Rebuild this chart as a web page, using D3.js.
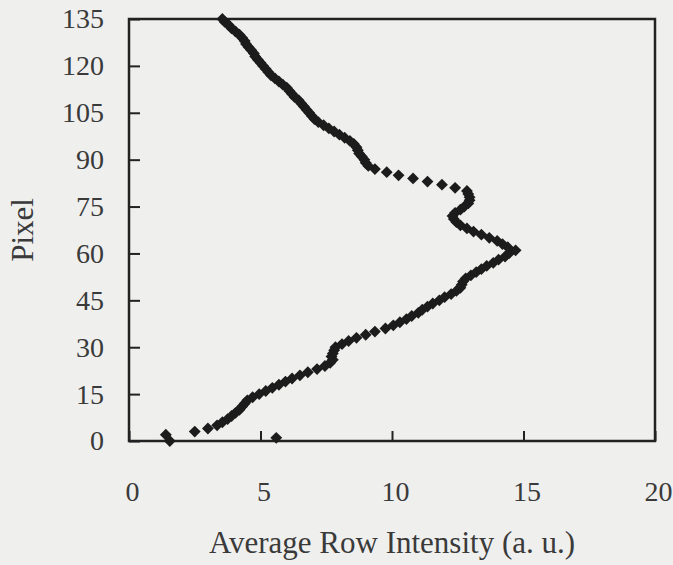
<!DOCTYPE html>
<html>
<head>
<meta charset="utf-8">
<script src="https://cdn.jsdelivr.net/npm/d3@7"></script>
<style>
  html, body { margin: 0; padding: 0; background: #efefee; }
  svg { display: block; }
</style>
</head>
<body>
<svg id="chart" width="673" height="565"></svg>
<script>
// ---- data ----
const pixels = [
  0,1,2,3,4,5,6,7,8,9,10,11,12,13,14,15,16,17,18,19,
  20,21,22,23,24,25,26,27,28,29,30,31,32,33,34,35,36,37,38,39,
  40,41,42,43,44,45,46,47,48,49,50,51,52,53,54,55,56,57,58,59,
  60,61,62,63,64,65,66,67,68,69,70,71,72,73,74,75,76,77,78,79,
  80,81,82,83,84,85,86,87,88,89,90,91,92,93,94,95,96,97,98,99,
  100,101,102,103,104,105,106,107,108,109,110,111,112,113,114,115,116,117,118,119,
  120,121,122,123,124,125,126,127,128,129,130,131,132,133,134,135
];
const intensity = [
  1.55,5.6,1.4,2.5,3.0,3.35,3.55,3.75,3.9,4.05,4.2,4.3,4.4,4.5,4.7,4.95,5.2,5.45,5.7,5.95,
  6.2,6.5,6.8,7.15,7.45,7.65,7.75,7.7,7.75,7.8,7.85,8.1,8.35,8.65,9.0,9.35,9.75,10.05,10.3,10.55,
  10.75,11.0,11.15,11.35,11.55,11.8,12.0,12.25,12.45,12.6,12.65,12.7,12.8,13.0,13.2,13.4,13.6,13.85,14.05,14.3,
  14.45,14.7,14.4,14.2,14.0,13.7,13.4,13.1,12.85,12.6,12.45,12.35,12.3,12.4,12.6,12.75,12.9,12.95,12.95,12.9,
  12.85,12.4,11.9,11.35,10.8,10.25,9.8,9.35,9.1,9.0,8.95,8.85,8.75,8.7,8.65,8.55,8.4,8.2,8.0,7.8,
  7.6,7.4,7.2,7.05,6.95,6.85,6.75,6.65,6.55,6.45,6.3,6.2,6.1,6.0,5.85,5.7,5.55,5.4,5.3,5.2,
  5.1,5.0,4.9,4.8,4.75,4.65,4.55,4.45,4.4,4.3,4.2,4.05,3.9,3.8,3.65,3.55
];
const xTicks = [0, 5, 10, 15, 20];
const yTicks = [0, 15, 30, 45, 60, 75, 90, 105, 120, 135];
const xTitle = "Average Row Intensity (a. u.)";
const yTitle = "Pixel";

// ---- layout ----
const L = 129, R = 655, T = 19, B = 441;
const ink = "#222";
const textColor = "#3a3a3a";
const fontFamily = "'Liberation Serif', 'Times New Roman', serif";

const svg = d3.select("#chart");
const x = d3.scaleLinear().domain([0, 20]).range([L, R]);
const y = d3.scaleLinear().domain([0, 135]).range([B, T]);

// axes
const yAxis = d3.axisLeft(y).tickValues(yTicks).tickSizeInner(-11).tickSizeOuter(0).tickPadding(25);
const xAxis = d3.axisBottom(x).tickValues(xTicks).tickSizeInner(-10).tickSizeOuter(0).tickPadding(40);

const gy = svg.append("g").attr("transform", `translate(${L},0)`).call(yAxis);
const gx = svg.append("g").attr("transform", `translate(0,${B})`).call(xAxis);
[gx, gy].forEach(g => {
  g.select(".domain").remove();
  g.selectAll(".tick line").attr("stroke", ink).attr("stroke-width", 2);
  g.selectAll(".tick text")
    .attr("fill", textColor)
    .style("font-family", fontFamily)
    .style("font-size", "28px");
});
gx.selectAll(".tick text").attr("dx", "3");

// frame
svg.append("rect")
  .attr("x", L).attr("y", T)
  .attr("width", R - L).attr("height", B - T)
  .attr("fill", "none")
  .attr("stroke", ink)
  .attr("stroke-width", 2.5);

// markers
const diamond = {
  draw(ctx, size) {
    const r = Math.sqrt(size / 2);
    ctx.moveTo(0, -r); ctx.lineTo(r, 0); ctx.lineTo(0, r); ctx.lineTo(-r, 0); ctx.closePath();
  }
};
const sym = d3.symbol().type(diamond).size(70);
const pts = pixels.map((p, i) => ({ p, v: intensity[i] }));
svg.append("g").selectAll("path")
  .data(pts)
  .join("path")
  .attr("d", sym)
  .attr("transform", d => `translate(${x(d.v)},${y(d.p)})`)
  .attr("fill", "#1c1c1c");

// titles
svg.append("text")
  .attr("x", (L + R) / 2).attr("y", 553)
  .attr("text-anchor", "middle")
  .attr("fill", textColor)
  .style("font-family", fontFamily)
  .style("font-size", "31px")
  .text(xTitle);

svg.append("text")
  .attr("transform", `translate(33,${(T + B) / 2}) rotate(-90)`)
  .attr("text-anchor", "middle")
  .attr("fill", textColor)
  .style("font-family", fontFamily)
  .style("font-size", "31px")
  .text(yTitle);
</script>
</body>
</html>
